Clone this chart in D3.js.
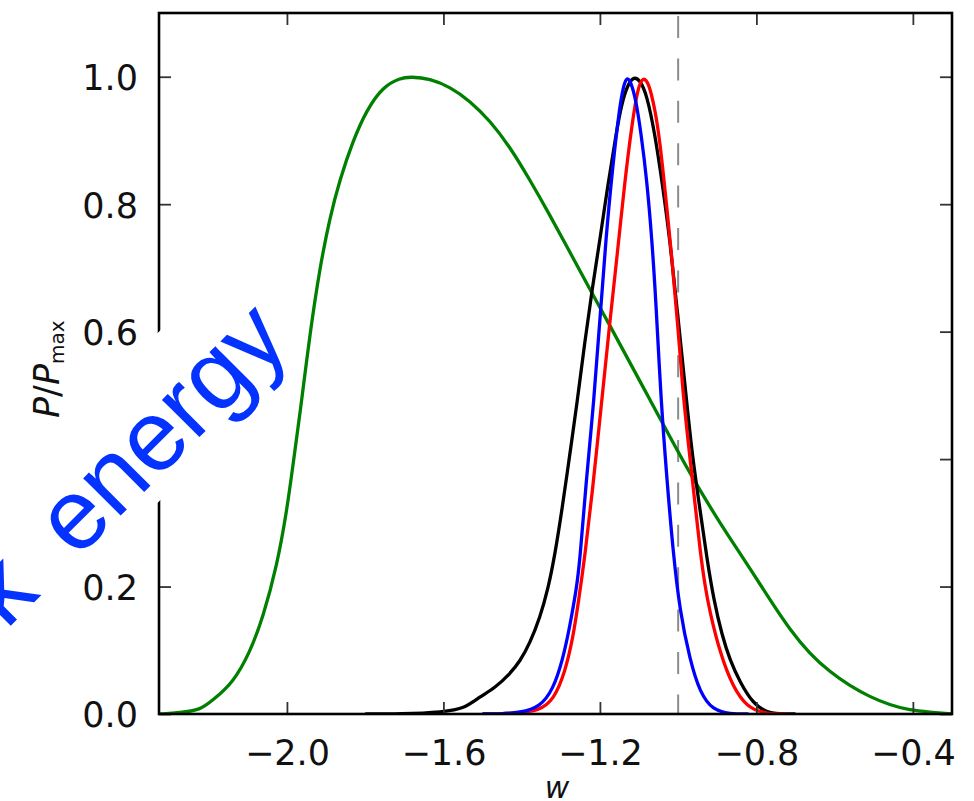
<!DOCTYPE html>
<html>
<head>
<meta charset="utf-8">
<script src="https://cdn.jsdelivr.net/npm/d3@7"></script>
<style>
  html, body { margin: 0; padding: 0; background: #fff; }
  svg { display: block; }
</style>
</head>
<body>
<svg id="chart" width="974" height="801"></svg>
<script>
// Normalised posterior P/Pmax of the dark-energy equation of state w
const xTicks = [-2.0, -1.6, -1.2, -0.8, -0.4];
const yTicks = [0.0, 0.2, 0.4, 0.6, 0.8, 1.0];
const wFiducial = -1.0;

const greenW = [-2.327,-2.273,-2.222,-2.189,-2.138,-2.095,-2.061,-2.026,-2.000,-1.985,-1.967,-1.941,-1.916,-1.890,-1.865,-1.831,-1.796,-1.755,-1.711,-1.683,-1.635,-1.583,-1.532,-1.481,-1.430,-1.379,-1.328,-1.277,-1.226,-1.174,-1.123,-1.072,-1.021,-0.970,-0.919,-0.868,-0.817,-0.765,-0.714,-0.663,-0.612,-0.561,-0.510,-0.459,-0.408,-0.357,-0.300];
const greenP = [0.000,0.002,0.006,0.022,0.049,0.096,0.152,0.231,0.320,0.389,0.469,0.598,0.700,0.780,0.838,0.900,0.948,0.984,0.998,1.000,0.997,0.984,0.962,0.931,0.890,0.838,0.783,0.725,0.667,0.609,0.551,0.493,0.435,0.378,0.325,0.276,0.229,0.179,0.132,0.094,0.066,0.044,0.027,0.014,0.006,0.003,0.000];

const blackW = [-1.800,-1.711,-1.599,-1.545,-1.507,-1.468,-1.430,-1.404,-1.379,-1.353,-1.333,-1.315,-1.297,-1.277,-1.259,-1.238,-1.220,-1.200,-1.180,-1.159,-1.144,-1.128,-1.113,-1.098,-1.080,-1.059,-1.039,-1.021,-1.001,-0.980,-0.965,-0.944,-0.927,-0.909,-0.888,-0.868,-0.842,-0.809,-0.776,-0.740,-0.700];
const blackP = [0.000,0.000,0.003,0.009,0.027,0.041,0.063,0.083,0.111,0.152,0.195,0.250,0.320,0.407,0.485,0.587,0.666,0.744,0.829,0.909,0.959,0.989,1.000,0.995,0.972,0.909,0.826,0.744,0.626,0.501,0.411,0.320,0.246,0.179,0.124,0.085,0.050,0.017,0.003,0.000,0.000];

const redW = [-1.500,-1.456,-1.412,-1.356,-1.318,-1.289,-1.269,-1.254,-1.238,-1.220,-1.195,-1.174,-1.157,-1.136,-1.118,-1.103,-1.090,-1.075,-1.059,-1.047,-1.031,-1.016,-1.001,-0.988,-0.973,-0.955,-0.944,-0.932,-0.919,-0.893,-0.860,-0.824,-0.783,-0.753,-0.720];
const redP = [0.000,0.000,0.002,0.005,0.022,0.066,0.119,0.179,0.250,0.344,0.493,0.619,0.713,0.838,0.926,0.983,1.000,0.991,0.948,0.901,0.807,0.716,0.611,0.505,0.419,0.320,0.257,0.203,0.160,0.096,0.042,0.011,0.002,0.000,0.000];

const blueW = [-1.500,-1.456,-1.404,-1.353,-1.320,-1.295,-1.277,-1.259,-1.251,-1.236,-1.215,-1.200,-1.185,-1.167,-1.149,-1.139,-1.131,-1.121,-1.108,-1.095,-1.080,-1.067,-1.057,-1.044,-1.029,-1.013,-0.996,-0.970,-0.944,-0.911,-0.868,-0.820];
const blueP = [0.000,0.000,0.002,0.011,0.038,0.085,0.137,0.200,0.242,0.360,0.493,0.619,0.744,0.862,0.956,0.987,1.000,0.992,0.964,0.912,0.838,0.744,0.650,0.493,0.370,0.255,0.163,0.085,0.033,0.006,0.000,0.000];

const series = [
  { color: "#008000", w: greenW, p: greenP },
  { color: "#000000", w: blackW, p: blackP },
  { color: "#ff0000", w: redW,   p: redP },
  { color: "#0000ff", w: blueW,  p: blueP }
];

const svg = d3.select("#chart");
const plotL = 159, plotR = 952, plotT = 13, plotB = 714;
const x = d3.scaleLinear().domain([-2.327, -0.30]).range([plotL, plotR]);
const y = d3.scaleLinear().domain([0, 1.1]).range([plotB, plotT]);
const fmt = d3.format(".1f");
const tickFont = "'DejaVu Sans', sans-serif";

svg.append("defs").append("clipPath").attr("id", "plot")
  .append("rect").attr("x", plotL).attr("y", plotT)
  .attr("width", plotR - plotL).attr("height", plotB - plotT);

// fiducial w = -1 line
svg.append("line")
  .attr("x1", x(wFiducial)).attr("x2", x(wFiducial))
  .attr("y1", y(1.1)).attr("y2", y(0))
  .attr("stroke", "#8c8c8c").attr("stroke-width", 2)
  .attr("stroke-dasharray", "22,20.4").attr("stroke-dashoffset", 39.4);

// posterior curves
const line = d3.line()
  .x(d => x(d[0])).y(d => y(d[1]))
  .curve(d3.curveBasis);
const curves = svg.append("g").attr("clip-path", "url(#plot)");
series.forEach(s => {
  curves.append("path")
    .datum(d3.zip(s.w, s.p))
    .attr("d", line)
    .attr("fill", "none")
    .attr("stroke", s.color)
    .attr("stroke-width", 3.3)
    .attr("stroke-linejoin", "round");
});

// axes with inward ticks on all four sides
function styleAxis(g) {
  g.select(".domain").remove();
  g.selectAll(".tick line").attr("stroke", "#333").attr("stroke-width", 1.8);
  g.selectAll("text").attr("font-family", tickFont).attr("font-size", 35).attr("fill", "#111");
}
svg.append("g").attr("transform", `translate(0,${plotB})`)
  .call(d3.axisBottom(x).tickValues(xTicks).tickFormat(fmt).tickSizeInner(-12).tickSizeOuter(0).tickPadding(26))
  .call(styleAxis);
svg.append("g").attr("transform", `translate(0,${plotT})`)
  .call(d3.axisTop(x).tickValues(xTicks).tickFormat("").tickSizeInner(-12).tickSizeOuter(0))
  .call(styleAxis);
svg.append("g").attr("transform", `translate(${plotL},0)`)
  .call(d3.axisLeft(y).tickValues(yTicks).tickFormat(fmt).tickSizeInner(-12).tickSizeOuter(0).tickPadding(21))
  .call(styleAxis)
  .selectAll("text").attr("dy", "0.37em");
svg.append("g").attr("transform", `translate(${plotR},0)`)
  .call(d3.axisRight(y).tickValues(yTicks).tickFormat("").tickSizeInner(-12).tickSizeOuter(0))
  .call(styleAxis);

svg.append("rect")
  .attr("x", plotL).attr("y", plotT)
  .attr("width", plotR - plotL).attr("height", plotB - plotT)
  .attr("fill", "none").attr("stroke", "#000").attr("stroke-width", 2.6);

// axis titles
svg.append("text")
  .attr("x", 557).attr("y", 798)
  .attr("text-anchor", "middle")
  .attr("font-family", tickFont).attr("font-style", "italic").attr("font-size", 30)
  .attr("fill", "#111")
  .text("w");

const yl = svg.append("text")
  .attr("transform", "translate(59,418) rotate(-90)")
  .attr("font-family", tickFont).attr("font-size", 35).attr("fill", "#111");
yl.append("tspan").attr("font-style", "italic").text("P");
yl.append("tspan").text("/");
yl.append("tspan").attr("font-style", "italic").text("P");
yl.append("tspan").attr("font-size", 20).attr("dy", 5).text("max");

// slide caption laid over the chart
const cap = svg.append("g").attr("transform", "rotate(-45)");
cap.append("rect")
  .attr("x", -720).attr("y", 347)
  .attr("width", 672).attr("height", 120)
  .attr("fill", "#fff");
cap.append("text")
  .attr("x", -36).attr("y", 450)
  .attr("text-anchor", "end")
  .attr("font-family", "'Liberation Sans', Arial, sans-serif")
  .attr("font-size", 100)
  .attr("word-spacing", 22)
  .attr("fill", "#0433ff")
  .text("Dark energy");
</script>
</body>
</html>
